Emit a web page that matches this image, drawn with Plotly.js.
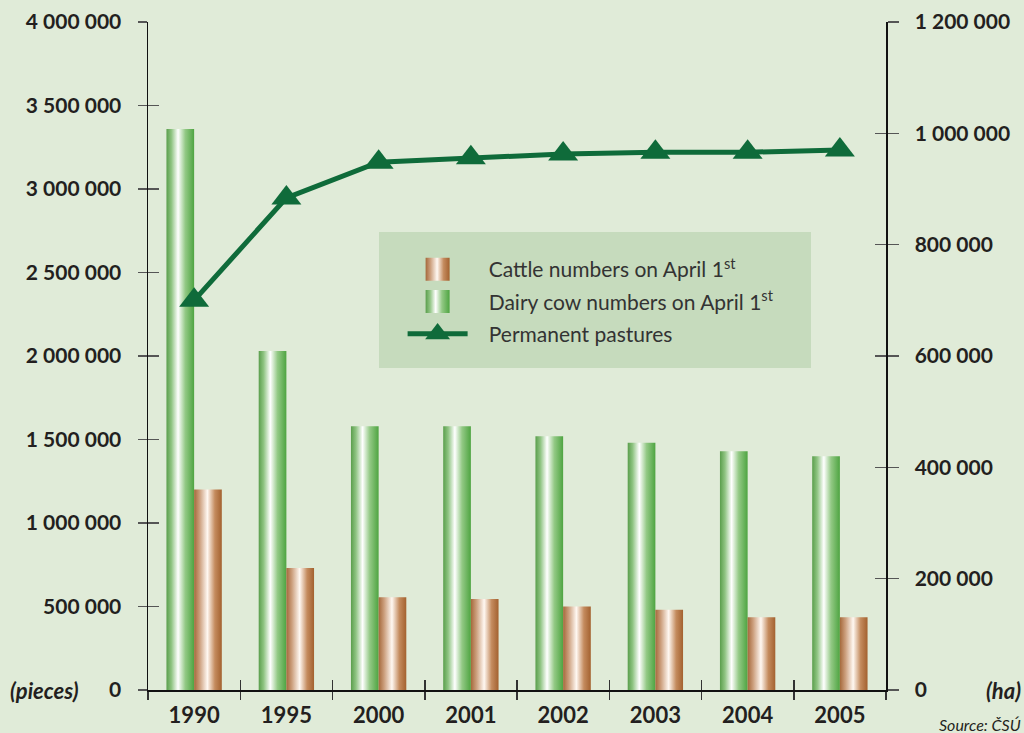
<!DOCTYPE html>
<html><head><meta charset="utf-8">
<script src="https://cdn.plot.ly/plotly-3.0.1.min.js"></script>
<style>html,body{margin:0;padding:0;background:#e0ebd8;}#chart{width:1024px;height:733px;}</style>
</head><body><div id="chart"></div>
<script>
var years = ['1990','1995','2000','2001','2002','2003','2004','2005'];
var dairyCows = [3360000, 2030000, 1580000, 1580000, 1520000, 1480000, 1430000, 1400000];
var cattle = [1200000, 730000, 555000, 545000, 500000, 480000, 435000, 435000];
var pastures = [700000, 884000, 948000, 956000, 963000, 966000, 966000, 970000];
var leftTicks = [0, 500000, 1000000, 1500000, 2000000, 2500000, 3000000, 3500000, 4000000];
var rightTicks = [0, 200000, 400000, 600000, 800000, 1000000, 1200000];

var NB = '\u00a0\u00a0\u00a0';
var data = [
  {type:'bar', x:years, y:dairyCows, name:NB+'Dairy cow numbers on April 1<sup>st</sup>',
   marker:{color:'#6fb562', line:{width:0}}, legendrank:2, legendgroup:'b', hoverinfo:'skip'},
  {type:'bar', x:years, y:cattle, name:NB+'Cattle numbers on April 1<sup>st</sup>',
   marker:{color:'#b07446', line:{width:0}}, legendrank:1, legendgroup:'a', hoverinfo:'skip'},
  {type:'scatter', mode:'lines+markers', x:years, y:pastures, yaxis:'y2', name:NB+'Permanent pastures',
   line:{color:'#0f6b3a', width:5}, marker:{symbol:'triangle-up', size:26, color:'#0f6b3a'},
   legendrank:3, legendgroup:'c', hoverinfo:'skip', cliponaxis:false}
];

var tickFont = {family:'Lato, sans-serif', size:21, color:'#231f20', weight:'bold'};
var layout = {
  width:1024, height:733,
  paper_bgcolor:'#e0ebd8', plot_bgcolor:'#e0ebd8',
  margin:{l:148, r:138, t:22, b:43},
  separators:', ',
  barmode:'group', bargap:0.4, bargroupgap:0,
  showlegend:true,
  legend:{x:0.345, y:0.66, xanchor:'left', yanchor:'top', bgcolor:'rgba(0,0,0,0)',
          font:{family:'Lato, sans-serif', size:21, color:'#333'}, itemwidth:60,
          traceorder:'grouped', tracegroupgap:2},
  xaxis:{type:'category', range:[-0.5,7.5], tickson:'boundaries', ticks:'outside', ticklen:8,
         tickwidth:1.5, tickcolor:'#333', showline:true, linecolor:'#111', linewidth:1.5,
         showgrid:false, zeroline:false, tickfont:{family:'Lato, sans-serif', size:22, color:'#231f20', weight:'bold'},
         ticklabelstandoff:5, fixedrange:true},
  xaxis2:{type:'category', overlaying:'x', range:[-0.5,7.5], tickson:'boundaries', ticks:'inside', ticklen:10,
          tickwidth:1.5, tickcolor:'#333', showticklabels:false, showline:false, showgrid:false, zeroline:false,
          matches:'x'},
  yaxis:{range:[0,4000000], tickvals:leftTicks, tickformat:',d', ticks:'outside', ticklen:9,
         tickwidth:1.5, tickcolor:'#555', showline:true, linecolor:'#111', linewidth:1.5,
         showgrid:false, zeroline:false, tickfont:tickFont, ticklabelstandoff:12, fixedrange:true},
  yaxis3:{overlaying:'y', range:[0,4000000], tickvals:leftTicks, ticks:'inside', ticklen:11,
          tickwidth:1.5, tickcolor:'#555', showticklabels:false, showline:false, showgrid:false, zeroline:false},
  yaxis2:{overlaying:'y', side:'right', range:[0,1200000], tickvals:rightTicks, tickformat:',d',
          ticks:'outside', ticklen:11, tickwidth:1.5, tickcolor:'#555', showline:true, linecolor:'#111',
          linewidth:1.5, showgrid:false, zeroline:false, tickfont:tickFont, ticklabelstandoff:12, fixedrange:true},
  yaxis4:{overlaying:'y', side:'right', range:[0,1200000], tickvals:rightTicks, ticks:'inside', ticklen:11,
          tickwidth:1.5, tickcolor:'#555', showticklabels:false, showline:false, showgrid:false, zeroline:false},
  shapes:[{type:'rect', xref:'paper', yref:'paper', x0:(379-148)/738, x1:(811-148)/738,
           y0:(690-368)/668, y1:(690-232)/668, fillcolor:'#c6dbbd', line:{width:0}, layer:'below'}],
  annotations:[
    {xref:'paper', yref:'paper', x:-0.19, y:0, xanchor:'left', yanchor:'middle', showarrow:false,
     text:'<i>(pieces)</i>', font:{family:'Lato, sans-serif', size:22, color:'#231f20', weight:'bold'}},
    {xref:'paper', yref:'paper', x:1.186, y:0, xanchor:'right', yanchor:'middle', showarrow:false,
     text:'<i>(ha)</i>', font:{family:'Lato, sans-serif', size:22, color:'#231f20', weight:'bold'}},
    {xref:'paper', yref:'paper', x:1.186, y:-0.052, xanchor:'right', yanchor:'middle', showarrow:false,
     text:'<i>Source: ČSÚ</i>', font:{family:'Lato, sans-serif', size:16, color:'#231f20'}}
  ]
};
// invisible helper traces that activate the overlay tick axes
data.push({type:'scatter', x:[years[0]], y:[0], xaxis:'x2', yaxis:'y3', mode:'markers', marker:{opacity:0}, showlegend:false, hoverinfo:'skip'});
data.push({type:'scatter', x:[years[0]], y:[0], xaxis:'x2', yaxis:'y4', mode:'markers', marker:{opacity:0}, showlegend:false, hoverinfo:'skip'});

function applyGradients(gd){
  var ns = 'http://www.w3.org/2000/svg';
  var svg = gd.querySelector('svg.main-svg');
  if(!document.getElementById('gradGreen')){
    var defs = document.createElementNS(ns,'defs');
    defs.innerHTML =
      '<linearGradient id="gradGreen" x1="0" y1="0" x2="1" y2="0">' +
      '<stop offset="0" stop-color="#5a9e4c"/><stop offset="0.18" stop-color="#8fc482"/>' +
      '<stop offset="0.42" stop-color="#ffffff"/><stop offset="0.68" stop-color="#93c985"/>' +
      '<stop offset="1" stop-color="#4ea441"/></linearGradient>' +
      '<linearGradient id="gradBrown" x1="0" y1="0" x2="1" y2="0">' +
      '<stop offset="0" stop-color="#a5683b"/><stop offset="0.2" stop-color="#cc9f7d"/>' +
      '<stop offset="0.48" stop-color="#fff8f2"/><stop offset="0.75" stop-color="#c48b5e"/>' +
      '<stop offset="1" stop-color="#a3612f"/></linearGradient>';
    svg.appendChild(defs);
  }
  var fills = {0:'url(#gradGreen)', 1:'url(#gradBrown)'};
  gd.querySelectorAll('.barlayer .trace').forEach(function(t){
    var d = t.__data__; var idx = d && d[0] && d[0].trace ? d[0].trace.index : null;
    if(fills[idx]) t.querySelectorAll('path').forEach(function(p){ p.style.fill = fills[idx]; });
  });
  gd.querySelectorAll('.legend .traces').forEach(function(t){
    var d = t.__data__; var idx = d && d[0] && d[0].trace ? d[0].trace.index : null;
    if(fills[idx]){
      t.querySelectorAll('.legendpoints path').forEach(function(p){
        p.setAttribute('d','M12,11.5H-12V-11.5H12Z'); p.style.fill = fills[idx]; p.style.stroke='none';
      });
    }
    if(idx === 2){
      t.querySelectorAll('.legendpoints path').forEach(function(p){
        if(!p.dataset.scaled){
          var tr = p.getAttribute('transform') || '';
          p.setAttribute('transform', tr + ' scale(1.35)');
          p.dataset.scaled = '1';
        }
      });
    }
  });
}
var gd = document.getElementById('chart');
Plotly.newPlot(gd, data, layout, {displayModeBar:false, staticPlot:true}).then(function(){
  applyGradients(gd);
  gd.on('plotly_afterplot', function(){ applyGradients(gd); });
});
</script></body></html>
